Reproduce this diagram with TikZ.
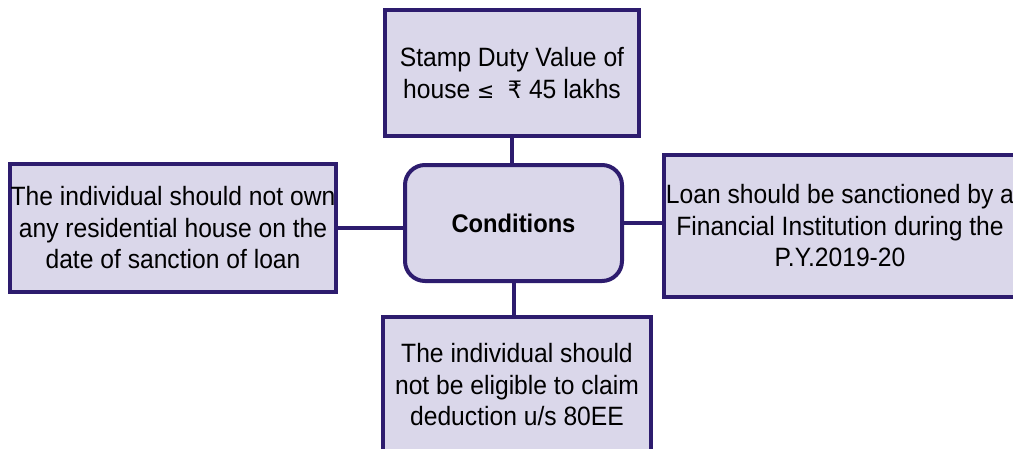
\documentclass[tikz,border=0pt]{standalone}
\usepackage{fontspec}
\setmainfont{Liberation Sans}[FakeStretch=0.93]
\newfontfamily\symfont{DejaVu Sans}[FakeStretch=0.93]
\definecolor{edge}{HTML}{2D1C6E}
\definecolor{boxfill}{HTML}{DAD7EA}
\begin{document}
\begin{tikzpicture}[x=1pt,y=-1pt,
  cond/.style={draw=edge,fill=boxfill,line width=4pt,rectangle,align=center,
    inner sep=0pt,font=\fontsize{26.5}{31.5}\selectfont},
  link/.style={draw=edge,line width=4pt}]
\useasboundingbox (0,0) rectangle (1013,448);
\node[cond,minimum width=254,minimum height=126] (top) at (512,73)
  {Stamp Duty Value of\\house {\symfont\fontsize{22}{31.5}\selectfont≤} \ {\symfont\fontsize{24}{31.5}\selectfont₹} 45 lakhs};
\node[cond,rounded corners=20pt,minimum width=217,minimum height=116,font=\fontsize{25.5}{31.5}\selectfont\bfseries] (mid) at (513.5,223) {Conditions};
\node[cond,minimum width=326,minimum height=128] (left) at (173,228)
  {The individual should not own\\any residential house on the\\date of sanction of loan};
\node[cond,minimum width=352,minimum height=142] (right) at (840,226)
  {Loan should be sanctioned by a\\Financial Institution during the\\P.Y.2019-20};
\node[cond,minimum width=268,minimum height=136] (bot) at (517,385)
  {The individual should\\not be eligible to claim\\deduction u/s 80EE};
\draw[link] (top.south) -- (top.south |- mid.north);
\draw[link] (left.east) -- (mid.west |- left.east);
\draw[link] (mid.east) -- (right.west |- mid.east);
\draw[link] (mid.south) -- (mid.south |- bot.north);
\end{tikzpicture}
\end{document}
